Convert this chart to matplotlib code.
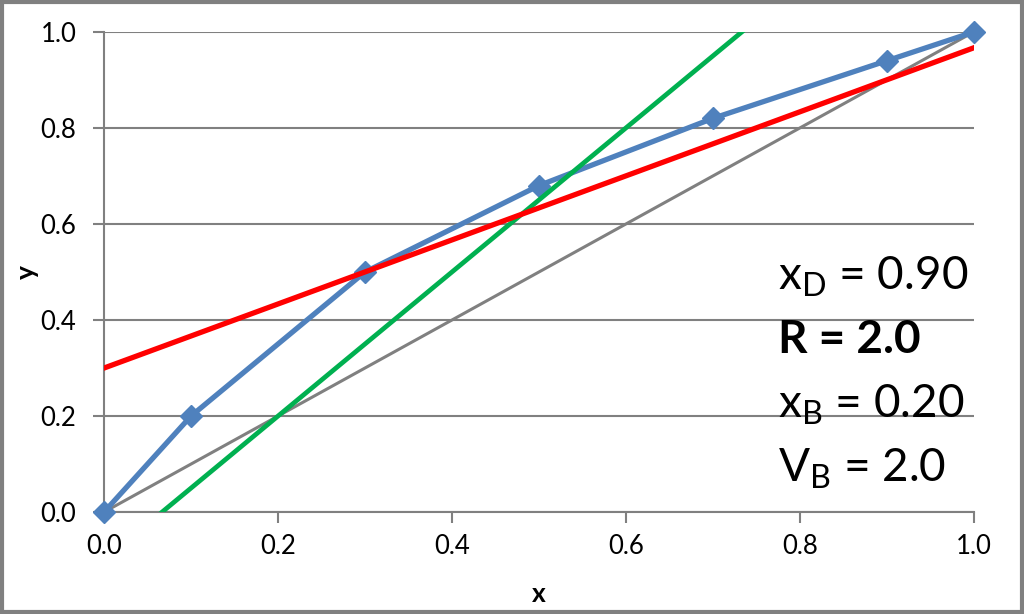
import matplotlib.pyplot as plt
from matplotlib.patches import Rectangle

plt.rcParams['font.family'] = ['Lato', 'DejaVu Sans']
plt.rcParams['mathtext.fontset'] = 'custom'
plt.rcParams['mathtext.rm'] = 'Lato'

# equilibrium curve
eq_x = [0.0, 0.1, 0.3, 0.5, 0.7, 0.9, 1.0]
eq_y = [0.0, 0.2, 0.5, 0.68, 0.82, 0.94, 1.0]
# operating lines
rect_x = [0.0, 1.0]
rect_y = [0.30, 0.967]
strip_x = [0.0667, 0.7333]
strip_y = [0.0, 1.0]
diag_x = [0.0, 1.0]
diag_y = [0.0, 1.0]

params = [r"$\mathregular{x_D}$ = 0.90", "R = 2.0",
          r"$\mathregular{x_B}$ = 0.20", r"$\mathregular{V_B}$ = 2.0"]
param_weights = ["normal", "bold", "normal", "normal"]
ticks = [0.0, 0.2, 0.4, 0.6, 0.8, 1.0]

fig = plt.figure(figsize=(10.24, 6.14), dpi=100)
ax = fig.add_axes([0.1016, 0.166, 0.8494, 0.782])

ax.plot(diag_x, diag_y, color="#808080", lw=2.2, zorder=2)
ax.plot(eq_x, eq_y, color="#4F81BD", lw=3.8, marker="D", ms=11.5,
        zorder=3, clip_on=False)
ax.plot(strip_x, strip_y, color="#00B050", lw=3.4, zorder=4)
ax.plot(rect_x, rect_y, color="#FF0000", lw=3.8, zorder=5)

ax.set_xlim(0, 1)
ax.set_ylim(0, 1)
ax.set_xticks(ticks)
ax.set_yticks(ticks)
ax.set_xticklabels([f"{t:.1f}" for t in ticks])
ax.set_yticklabels([f"{t:.1f}" for t in ticks])
ax.tick_params(labelsize=18.5, color="#808080", length=8, width=1.5)
ax.tick_params(axis="x", pad=8)
ax.tick_params(axis="y", pad=12)
ax.yaxis.grid(True, color="#808080", lw=1.5)
ax.set_axisbelow(True)
for s in ["top", "right"]:
    ax.spines[s].set_visible(False)
for s in ["left", "bottom"]:
    ax.spines[s].set_color("#808080")
    ax.spines[s].set_linewidth(1.5)

ax.set_xlabel("x", fontsize=19, fontweight="bold", va="center")
ax.set_ylabel("y", fontsize=19, fontweight="bold", va="center")
ax.xaxis.set_label_coords(0.5, -0.171)
ax.yaxis.set_label_coords(-0.0885, 0.5)

param_y = [0.463, 0.331, 0.196, 0.0625]
for txt, w, yy in zip(params, param_weights, param_y):
    ax.text(0.775, yy, txt, fontsize=33, fontweight=w, va="baseline",
            ha="left", zorder=6)

fig.patches.append(Rectangle((0.0015, 0.0025), 0.997, 0.995,
                             transform=fig.transFigure, fill=False,
                             edgecolor="#808080", lw=3))

fig.savefig("out.png", dpi=100)
